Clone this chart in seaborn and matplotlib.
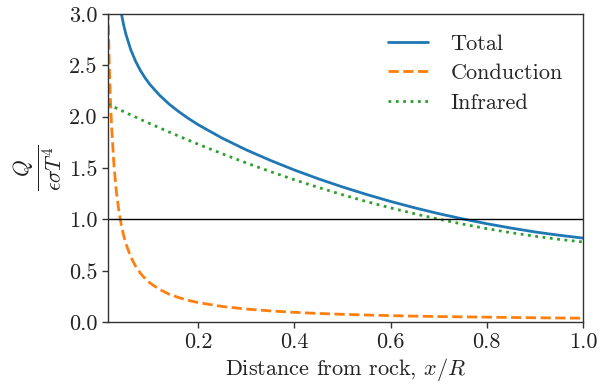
import matplotlib
matplotlib.use("Agg")
import matplotlib.pyplot as plt
import seaborn as sns
import pandas as pd

x_vals = [0.0125, 0.015, 0.0175, 0.02, 0.025, 0.03, 0.035, 0.04, 0.045, 0.05,
          0.06, 0.07, 0.08, 0.09, 0.1, 0.12, 0.14, 0.16, 0.18, 0.2,
          0.25, 0.3, 0.35, 0.4, 0.45, 0.5, 0.55, 0.6, 0.65, 0.7,
          0.75, 0.8, 0.85, 0.9, 0.95, 1.0]
total = [5.162, 4.649, 4.282, 4.005, 3.614, 3.350, 3.158, 3.011, 2.894, 2.799,
         2.650, 2.539, 2.449, 2.375, 2.312, 2.208, 2.121, 2.048, 1.982, 1.922,
         1.791, 1.677, 1.575, 1.481, 1.395, 1.316, 1.243, 1.175, 1.113, 1.056,
         1.005, 0.958, 0.916, 0.878, 0.846, 0.818]
conduction = [3.04, 2.533, 2.171, 1.90, 1.52, 1.267, 1.086, 0.95, 0.844, 0.76,
              0.633, 0.543, 0.475, 0.422, 0.38, 0.317, 0.271, 0.238, 0.211, 0.19,
              0.152, 0.127, 0.109, 0.095, 0.084, 0.076, 0.069, 0.063, 0.058, 0.054,
              0.051, 0.048, 0.045, 0.042, 0.040, 0.038]
infrared = [2.122, 2.116, 2.111, 2.105, 2.094, 2.083, 2.072, 2.061, 2.050, 2.039,
            2.017, 1.996, 1.974, 1.953, 1.932, 1.891, 1.850, 1.810, 1.771, 1.732,
            1.639, 1.550, 1.466, 1.386, 1.311, 1.240, 1.174, 1.112, 1.055, 1.002,
            0.954, 0.910, 0.871, 0.836, 0.806, 0.780]
series_names = ["Total", "Conduction", "Infrared"]
x_ticks = [0.2, 0.4, 0.6, 0.8, 1.0]
y_ticks = [0.0, 0.5, 1.0, 1.5, 2.0, 2.5, 3.0]

sns.set_style("ticks")
plt.rcParams["font.family"] = "serif"
plt.rcParams["font.serif"] = ["cmr10", "DejaVu Serif"]
plt.rcParams["mathtext.fontset"] = "cm"
plt.rcParams["axes.formatter.use_mathtext"] = True

df = pd.DataFrame({"x": x_vals, "Total": total, "Conduction": conduction, "Infrared": infrared})

fig = plt.figure(figsize=(6.05, 3.89), dpi=100)
ax = fig.add_axes([0.1785, 0.172, 0.785, 0.792])

colors = ["#1f77b4", "#ff7f0e", "#2ca02c"]
styles = ["-", "--", ":"]
for name, c, ls in zip(series_names, colors, styles):
    sns.lineplot(data=df, x="x", y=name, ax=ax, color=c, linestyle=ls, linewidth=2, label=name)

ax.axhline(1.0, color="black", linewidth=1)

ax.set_xlim(0.0125, 1.0)
ax.set_ylim(0, 3.0)
ax.set_xticks(x_ticks)
ax.set_xticklabels([f"{t:.1f}" for t in x_ticks])
ax.set_yticks(y_ticks)
ax.set_yticklabels([f"{t:.1f}" for t in y_ticks])
ax.tick_params(labelsize=16, length=4, width=1, color="#333333", labelcolor="#222222")
for s in ax.spines.values():
    s.set_visible(True)
    s.set_linewidth(1)
    s.set_color("#333333")

ax.set_xlabel(r"Distance from rock, $x/R$", fontsize=16, color="#222222", labelpad=3)
ax.set_ylabel(r"$\frac{Q}{\epsilon\sigma T^4}$", fontsize=22, color="#222222", labelpad=4)

leg = ax.legend(loc="upper right", frameon=False, fontsize=16, handlelength=1.8,
                handletextpad=1.0, borderaxespad=0.5, labelspacing=0.45)

fig.savefig("out.png", dpi=100)
